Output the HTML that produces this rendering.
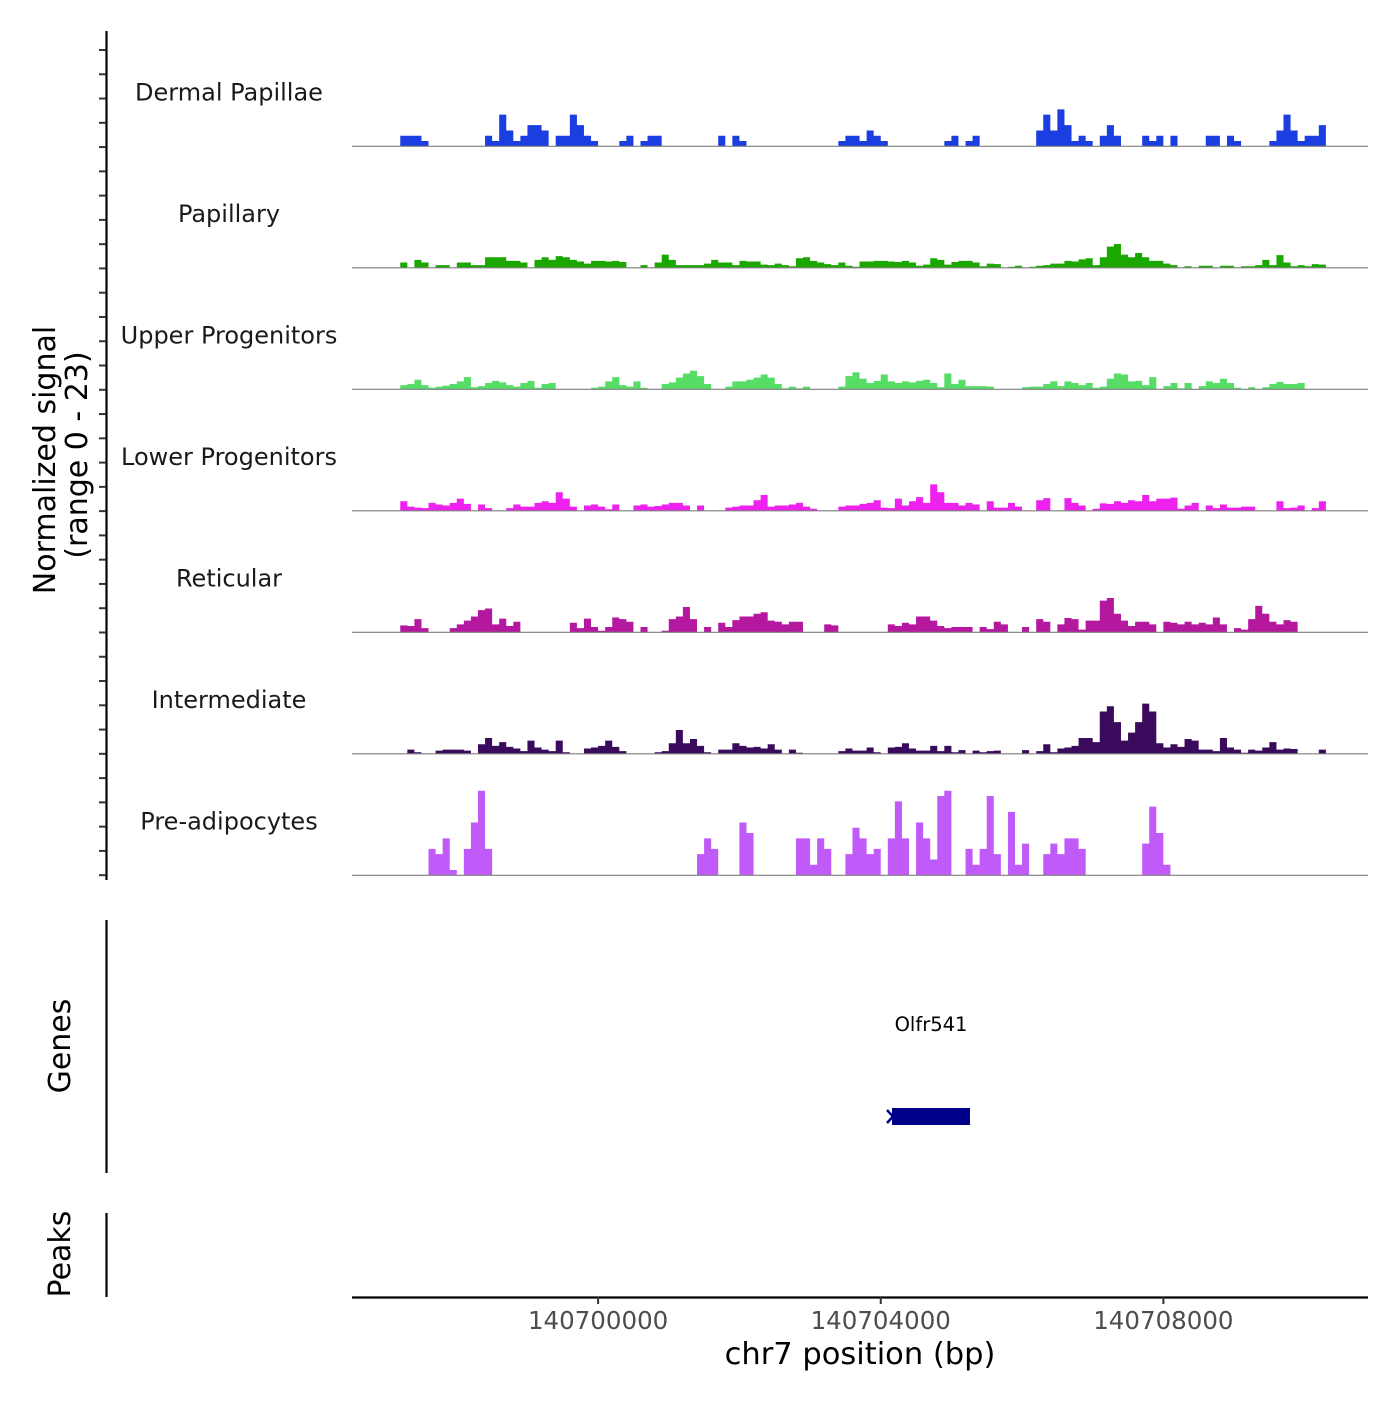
<!DOCTYPE html>
<html><head><meta charset="utf-8"><style>
body{margin:0;background:#fff;}
svg text{font-family:"DejaVu Sans","Liberation Sans",sans-serif;}
</style></head><body>
<svg id="chart" width="1400" height="1400" viewBox="0 0 1400 1400" xmlns="http://www.w3.org/2000/svg">
<g id="tracks"></g>
<g id="yaxis">
<line x1="106.5" y1="31" x2="106.5" y2="880" stroke="#000" stroke-width="2.2"/>
</g>
<text transform="translate(55,460) rotate(-90)" text-anchor="middle" font-size="30" fill="#000">Normalized signal</text>
<text transform="translate(87,455) rotate(-90)" text-anchor="middle" font-size="30" fill="#000">(range 0 - 23)</text>
<line x1="106.5" y1="920" x2="106.5" y2="1173" stroke="#000" stroke-width="2.2"/>
<text transform="translate(70,1046) rotate(-90)" text-anchor="middle" font-size="30" fill="#000">Genes</text>
<line x1="106.5" y1="1213" x2="106.5" y2="1297" stroke="#000" stroke-width="2.2"/>
<text transform="translate(70,1254) rotate(-90)" text-anchor="middle" font-size="30" fill="#000">Peaks</text>
<g>
<text x="931" y="1031" text-anchor="middle" font-size="19.5" fill="#000">Olfr541</text>
<rect x="892" y="1108" width="78" height="17" fill="#00008b"/>
<path d="M887 1110 L893 1116.5 L887 1123" fill="none" stroke="#00008b" stroke-width="2.5"/>
</g>
<g id="xaxis">
<line x1="352" y1="1297.5" x2="1368" y2="1297.5" stroke="#000" stroke-width="2.2"/>
</g>
<text x="860" y="1364" text-anchor="middle" font-size="30.5" fill="#000">chr7 position (bp)</text>
</svg>
<script>
const xDomain = [140696517, 140710896];
const binStart = 140697200;
const binSize = 100;
const trackNames = ["Dermal Papillae","Papillary","Upper Progenitors","Lower Progenitors","Reticular","Intermediate","Pre-adipocytes"];
const trackColors = ["#1a3ee0","#1aa800","#55dd66","#ee22ee","#b4189e","#3a0a5c","#c05af8"];
const xTicks = [140700000, 140704000, 140708000];
const yMax = 23;

const dermal = [2,2,2,1,0,0,0,0,0,0, 0,0,2,1,6,3,1,2,4,4, 3,0,2,2,6,4,2,1,0,0, 0,1,2,0,1,2,2,0,0,0, 0,0,0,0,0,2,0,2,1,0, 0,0,0,0,0,0,0,0,0,0, 0,0,1,2,2,1,3,2,1,0, 0,0,0,0,0,0,0,1,2,0, 1,2,0,0,0,0,0,0,0,0, 3,6,3,7,4,1,2,1,0,2, 4,2,0,0,0,2,1,2,0,2, 0,0,0,0,2,2,0,2,1,0, 0,0,0,1,3,6,3,1,2,2, 4,0];
const papillary = [1,0,1.5,1,0,0.5,0.5,0,1,1, 0.5,0.5,2,2,2,1.3,1.3,1,0,1.5, 2,1.5,2.2,2,1.5,1.2,0.8,1.3,1.3,1.2, 1.3,1.1,0,0,0.5,0,1,2.5,1.5,0.5, 0.5,0.5,0.5,0.8,1.5,1,1,0.5,1.3,1.2, 1.2,0.6,0.5,0.8,0.5,0.3,1.8,2,1.3,1, 0.7,0.5,1,0.4,0.2,1.2,1.2,1.3,1.3,1.2, 1.1,1.3,1,0.4,0.6,1.8,1.5,0.6,1.1,1.3, 1.3,1,0.3,0.8,0.7,0,0.2,0.4,0,0.2, 0.4,0.5,0.8,0.8,1.3,1.2,1.6,1.8,0.5,2, 4,4.5,2.5,2,2.8,2,1.3,1.3,0.8,0.5, 0,0.3,0,0.4,0.4,0,0.4,0.4,0,0.3, 0.3,0.5,1.5,0.5,2.4,1,0.3,0.5,0.3,0.7, 0.6,0];
const upper = [0.8,1,1.8,0.8,0.3,0.5,0.7,1,1.5,2.3, 0.4,0.6,1.2,1.6,1.3,0.8,0.5,1.2,1.6,0.3, 1,1.2,0,0,0,0,0,0.3,0.5,1.5, 2.3,0.8,0.5,1.5,0.3,0,0,1,1.3,2.2, 3,3.5,2.5,1,0,0,0.5,1.5,1.5,1.8, 2.2,2.8,2.2,1,0.2,0.5,0.2,0.5,0,0, 0,0,0.5,2.5,3.2,2,1.2,1.6,2.8,1.5, 1.2,1.5,1.3,1.6,1.8,1.2,0.4,3,1,1.8, 0.6,0.6,0.6,0.5,0,0,0,0,0.4,0.5, 0.5,1,1.5,0.6,1.5,1.2,0.8,1.2,0.3,0.5, 2,3,2.8,1.5,1.6,0.8,2.3,0,0.6,1.2, 0.2,1.2,0,0.6,1.5,1.2,2,1.2,0.3,0, 0.4,0,0.4,1,1.4,1,1,1.2,0,0, 0,0];
const lower = [1.8,0.8,0.6,0.5,1.5,1.2,1,1.5,2.3,1.3, 0,1.2,0.5,0,0,0.5,1.2,0.8,0.8,1.5, 1.8,1.5,3.5,2.3,0.8,0,1,1.2,0.8,0.3, 1.2,0,0,1,1.2,0.8,0.9,1.2,1.5,1.5, 1,0,1,0,0,0,0.6,0.8,1,1, 2,3,0.8,1,1,1.2,1.5,0.8,0.4,0, 0,0,0.8,1,1,1.3,1.5,2,0.6,0.5, 2.3,1,1.8,2.6,1.5,5,3.5,1.5,1.5,1, 1.5,1.2,0,1.8,0.6,0.6,1.5,0.8,0,0, 2,2.4,0,0,2.4,1.5,1,0,0.4,1.4, 1.3,1.8,1.5,2,1.8,3,1.8,2.3,2.3,2.5, 0.4,1,1.5,0,1,0.5,1.2,0.6,0.6,0.8, 0.8,0,0,0,1.8,0.5,0.6,1,0,0.5, 1.8,0];
const reticular = [1.3,1.2,2.5,0.8,0,0,0,0.8,1.5,2.2, 3,4.2,4.5,1.5,2.6,1.2,2,0,0,0, 0,0,0,0,1.8,0.8,2.6,1,0.3,1, 2.8,2.5,2,0,1,0,0,0.3,2.5,3, 4.8,2.5,0,1,0,1.8,1,2.3,3,3, 3.5,3.8,2.2,2,1.5,2,2,0,0,0, 1.5,1.3,0,0,0,0,0,0,0,1.5, 1.2,1.8,1.5,3,3,2.2,1.2,0.8,1,1, 1,0,1,0.6,2,1.5,0,0,1,0, 2.5,2,0,1.5,2.7,2.5,0.5,2.2,2.2,6, 6.5,3.5,2.2,1.2,2,2,1.5,0,2,1.8, 1.5,2,1.5,1.8,1.5,2.8,1.5,0,0.8,0.5, 2.5,5,3.5,2,1.5,2.3,2,0,0,0, 0,0];
const intermediate = [0,0.8,0.3,0,0,0.6,0.8,0.8,0.8,0.6, 0,1.8,3,1.5,2.2,1.3,1,0.5,2.5,1.2, 0.8,0.5,2.5,0.3,0,0,1,1.2,1.5,2.5, 1.3,0.5,0,0,0,0,0.3,0.5,2,4.5, 2,2.8,1.5,0.3,0,0.8,0.8,2,1.5,1.2, 1.3,1,1.8,0.8,0,0.8,0.2,0,0,0, 0,0,0.5,1,0.6,0.6,1.2,0.3,0,1.2, 1.3,2,1,0.6,0.6,1.5,0.5,1.5,0.3,0.7, 0,0.6,0.3,0.5,0.6,0,0,0,0.7,0, 0.5,1.8,0.3,1,1.2,1.5,3,3,2.2,8, 9,6,2.5,4,6,9.5,8,2,1.2,1.8, 1.3,2.8,2.5,0.8,0.8,0.5,3,1.2,0.8,0.2, 0.8,0.6,1.2,2.2,0.8,1,0.9,0,0,0, 0.8,0];
const preadipo = [0,0,0,0,5,4,7,1,0,5, 10,16,5,0,0,0,0,0,0,0, 0,0,0,0,0,0,0,0,0,0, 0,0,0,0,0,0,0,0,0,0, 0,0,4,7,5,0,0,0,10,8, 0,0,0,0,0,0,7,7,2,7, 5,0,0,4,9,7,4,5,0,7, 14,7,0,10,7,3,15,16,0,0, 5,2,5,15,4,0,12,2,6,0, 0,4,6,4,7,7,5,0,0,0, 0,0,0,0,0,6,13,8,2,0, 0,0,0,0,0,0,0,0,0,0, 0,0,0,0,0,0,0,0,0,0, 0,0];
const series = [dermal, papillary, upper, lower, reticular, intermediate, preadipo];

const NS = "http://www.w3.org/2000/svg";
const plotLeft = 352, plotRight = 1368;
const firstBaseline = 146.3, trackStep = 121.5, trackH = 121.5;
function xScale(bp){ return plotLeft + (bp - xDomain[0]) / (xDomain[1] - xDomain[0]) * (plotRight - plotLeft); }
function yScale(v, base){ return base - v / yMax * trackH; }
function mk(tag, attrs){ const e = document.createElementNS(NS, tag); for (const k in attrs) e.setAttribute(k, attrs[k]); return e; }

const tracksG = document.getElementById('tracks');
series.forEach(function(vals, t){
  const base = firstBaseline + t * trackStep;
  const g = mk('g', {});
  
  
  let d = '';
  vals.forEach(function(v, i){
    if (v <= 0) return;
    const x0 = xScale(binStart + i * binSize), x1 = xScale(binStart + (i + 1) * binSize);
    const y = yScale(v, base);
    d += 'M' + x0.toFixed(2) + ' ' + base + 'L' + x0.toFixed(2) + ' ' + y.toFixed(2) + 'L' + x1.toFixed(2) + ' ' + y.toFixed(2) + 'L' + x1.toFixed(2) + ' ' + base + 'Z';
  });
  const area = mk('path', {d: d, fill: trackColors[t]});
  
  
  g.appendChild(area);
  const bl = mk('line', {x1: plotLeft, x2: plotRight, y1: base, y2: base, stroke: '#7f7f7f', 'stroke-width': 1.2});
  
  
  g.appendChild(bl);
  const lab = mk('text', {x: 229, y: base - 46, 'text-anchor': 'middle', 'font-size': 24, fill: '#1a1a1a'});
  
  
  lab.textContent = trackNames[t];
  g.appendChild(lab);
  tracksG.appendChild(g);
});

const yAxisG = document.getElementById('yaxis');
for (let k = 0; k < 35; k++) {
  const y = 50 + k * 24.27;
  const tk = mk('line', {x1: 99, x2: 106, y1: y, y2: y, stroke: '#333', 'stroke-width': 2});
  
  
  yAxisG.appendChild(tk);
}

const xAxisG = document.getElementById('xaxis');
xTicks.forEach(function(v){
  const x = xScale(v);
  const tk = mk('line', {x1: x, x2: x, y1: 1297, y2: 1304, stroke: '#333', 'stroke-width': 2});
  
  
  xAxisG.appendChild(tk);
  const tl = mk('text', {x: x, y: 1329, 'text-anchor': 'middle', 'font-size': 24.5, fill: '#4d4d4d'});
  
  
  tl.textContent = String(v);
  xAxisG.appendChild(tl);
});
</script>
</body></html>
